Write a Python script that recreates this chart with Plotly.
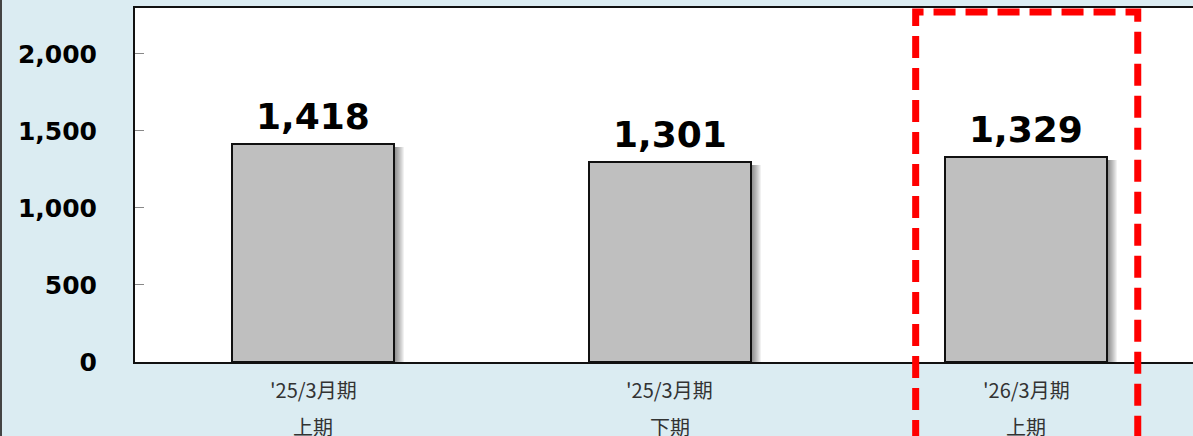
import plotly.graph_objects as go

# Half-year results
periods = ["'25/3月期", "'25/3月期", "'26/3月期"]
halves = ["上期", "下期", "上期"]
values = [1418, 1301, 1329]
highlight_index = 2

y_ticks = [0, 500, 1000, 1500, 2000]

BG = "#DBECF2"
BAR_W = 0.455
PX_PER_CAT = 356.5        # horizontal pixels per category
PX_PER_UNIT = 354 / 2298  # vertical pixels per value unit

x = list(range(len(values)))

fig = go.Figure()

# soft drop shadow on the right of each bar, built from stacked translucent layers
for k in range(1, 11):
    dx = k * 1.0 / PX_PER_CAT
    dy = 3 / PX_PER_UNIT
    fig.add_trace(go.Bar(
        x=x, y=[v - dy for v in values],
        width=BAR_W, offset=-BAR_W / 2 + dx,
        marker=dict(color="rgba(0,0,0,0.055)", line=dict(width=0)),
        hoverinfo="skip", showlegend=False,
    ))

fig.add_trace(go.Bar(
    x=x, y=values, width=BAR_W,
    marker=dict(color="#BFBFBF", line=dict(color="#111111", width=2)),
    showlegend=False,
))

# value labels above the bars
for i, v in enumerate(values):
    fig.add_annotation(x=i, y=v, xref="x", yref="y", text=f"{v:,}",
                       showarrow=False, yanchor="bottom", yshift=5,
                       font=dict(family="DejaVu Sans", size=36, color="#000000",
                                 weight="bold"))

# category labels (two lines under the axis)
for i, (p, h) in enumerate(zip(periods, halves)):
    fig.add_annotation(x=i, y=-0.079, xref="x", yref="paper", text=p,
                       showarrow=False, yanchor="middle",
                       font=dict(family="Noto Sans CJK JP", size=20, color="#333333"))
    fig.add_annotation(x=i, y=-0.182, xref="x", yref="paper", text=h,
                       showarrow=False, yanchor="middle",
                       font=dict(family="Noto Sans CJK JP", size=20, color="#333333"))

# red dashed frame around the highlighted half
fig.add_shape(type="rect", xref="x", yref="paper",
              x0=highlight_index - 0.31, x1=highlight_index + 0.313,
              y0=-0.4, y1=0.989,
              line=dict(color="#FF0000", width=7, dash="22px,10px"),
              fillcolor="rgba(0,0,0,0)", layer="above")

# thin dark border on the far left edge
fig.add_shape(type="line", xref="paper", yref="paper",
              x0=-134 / 1058, x1=-134 / 1058, y0=-0.3, y1=1.1,
              line=dict(color="#444444", width=2))

fig.update_layout(
    width=1193, height=436,
    margin=dict(l=135, r=0, t=8, b=74),
    paper_bgcolor=BG, plot_bgcolor="#FFFFFF",
    barmode="overlay", bargap=0,
    xaxis=dict(range=[-0.5, 2.468], showticklabels=False, ticks="",
               showgrid=False, zeroline=False,
               showline=True, linecolor="#111111", linewidth=2, mirror=True),
    yaxis=dict(range=[0, 2298], tickvals=y_ticks, tickformat=",",
               ticks="inside", ticklen=9, tickcolor="#888888", tickwidth=1,
               showgrid=False, zeroline=False,
               showline=True, linecolor="#111111", linewidth=2,
               ticklabelstandoff=31,
               tickfont=dict(family="DejaVu Sans", size=25, color="#000000",
                             weight="bold")),
)

fig.write_html("out.html")
